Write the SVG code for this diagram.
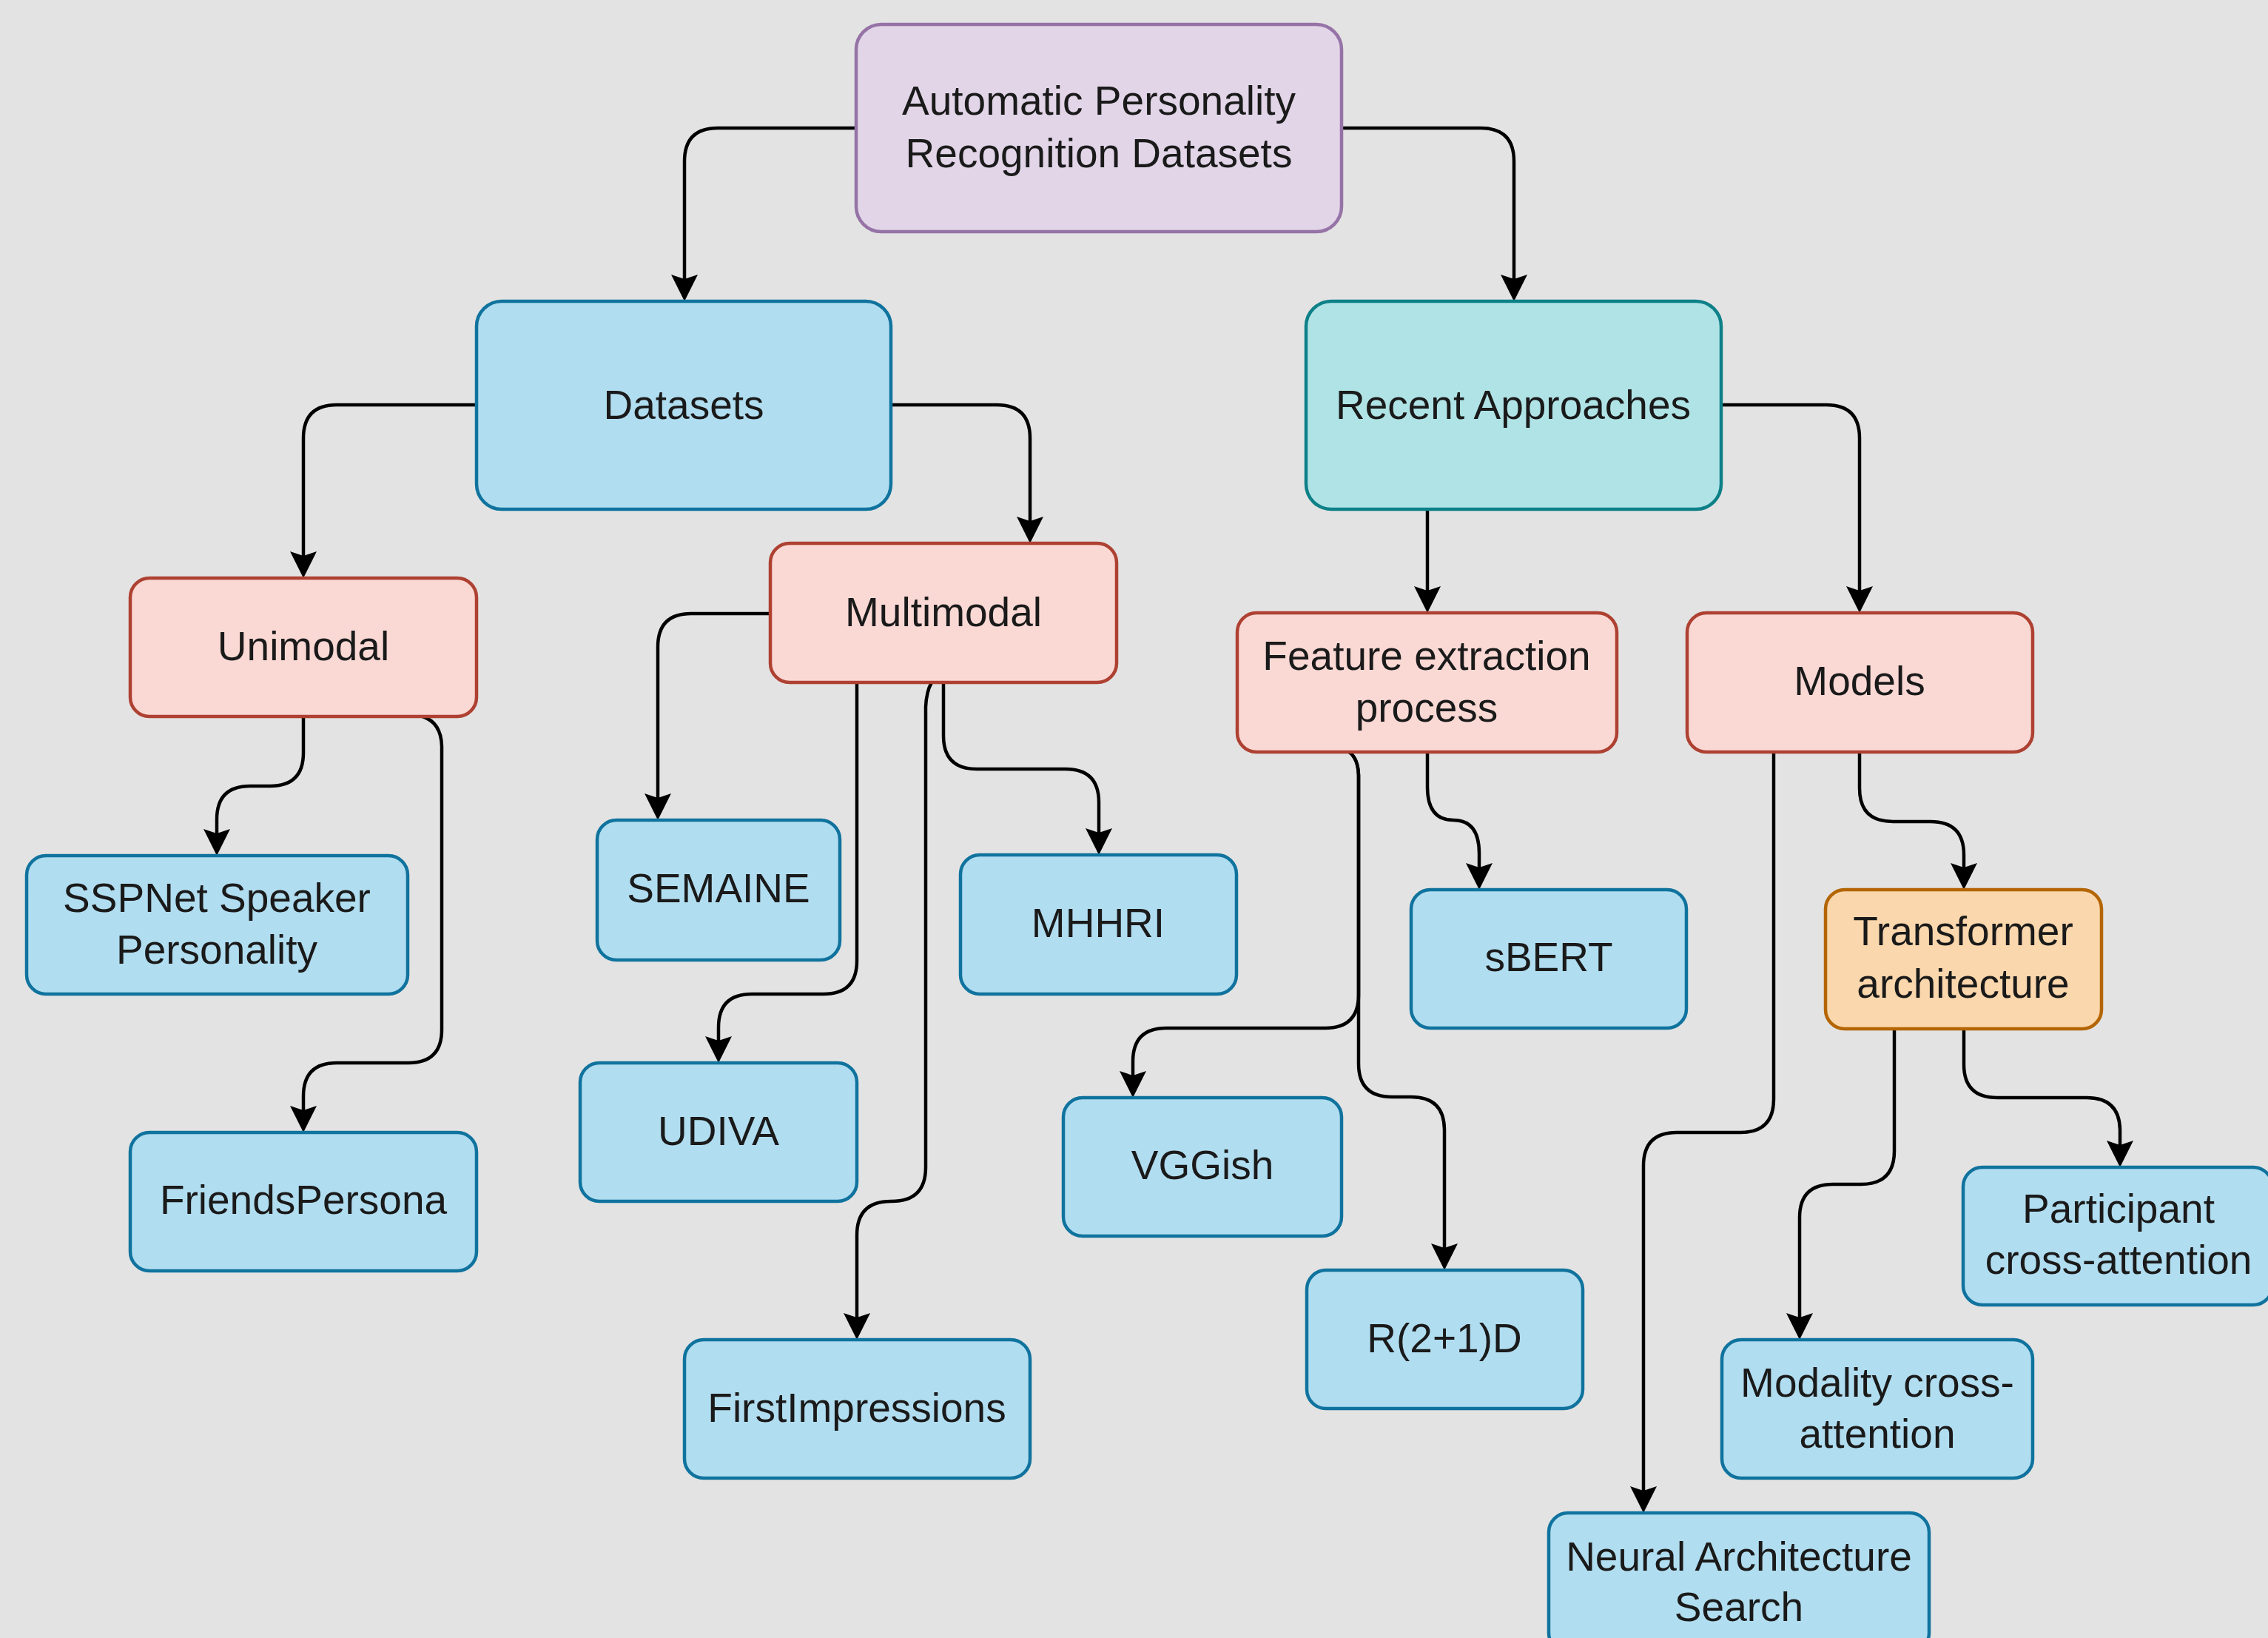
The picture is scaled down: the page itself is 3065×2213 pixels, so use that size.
<svg xmlns="http://www.w3.org/2000/svg" width="3065" height="2213" viewBox="0 0 3065 2213">
<style>
.n rect{stroke-width:4.5}
.blue rect{fill:#b1ddf0;stroke:#10739e}
.red rect{fill:#fad9d5;stroke:#ae4132}
.purple rect{fill:#e1d5e7;stroke:#9673a6}
.teal rect{fill:#b0e3e6;stroke:#0e8088}
.orange rect{fill:#fad7ac;stroke:#b46504}
text{font-family:"Liberation Sans",Arial,Helvetica,sans-serif;font-size:55px;fill:#1a1a1a;text-anchor:middle}
.e path{fill:none;stroke:#000;stroke-width:4.5;marker-end:url(#arr)}
</style>
<defs>
<marker id="arr" markerUnits="userSpaceOnUse" viewBox="0 -20 40 40" markerWidth="40" markerHeight="40" refX="6" refY="0" orient="auto">
<path d="M0,-18 L36,0 L0,18 L6,0 Z" fill="#000"/>
</marker>
</defs>
<rect x="0" y="0" width="3065" height="2213" fill="#e3e3e3"/>
<g id="connectors" class="e">
<path d="M1157 173 L970 173 Q925 173 925 218 L925 377"/>
<path d="M1813 173 L2001 173 Q2046 173 2046 218 L2046 377"/>
<path d="M644 547 L455 547 Q410 547 410 592 L410 751"/>
<path d="M1204 547 L1347 547 Q1392 547 1392 592 L1392 704"/>
<path d="M410 968 L410 1017 Q410 1062 365 1062 L338 1062 Q293 1062 293 1107 L293 1126"/>
<path d="M571 968 Q596 976 597 1008 L597 1391 Q597 1436 552 1436 L455 1436 Q410 1436 410 1481 L410 1500"/>
<path d="M1041 829 L934 829 Q889 829 889 874 L889 1078"/>
<path d="M1158 922 L1158 1298 Q1158 1343 1113 1343 L1016 1343 Q971 1343 971 1388 L971 1406"/>
<path d="M1259 922 Q1252 934 1251 955 L1251 1577 Q1251 1623 1205 1623 L1204 1623 Q1158 1623 1158 1669 L1158 1780"/>
<path d="M1275 922 L1275 994 Q1275 1039 1320 1039 L1440 1039 Q1485 1039 1485 1084 L1485 1125"/>
<path d="M1929 688 L1929 798"/>
<path d="M2326 547 L2468 547 Q2513 547 2513 592 L2513 798"/>
<path d="M1929 1016 L1929 1063 Q1929 1108 1964 1108 Q1999 1108 1999 1153 L1999 1172"/>
<path d="M1823 1016 Q1835 1024 1836 1047 L1836 1344 Q1836 1389 1791 1389 L1576 1389 Q1531 1389 1531 1434 L1531 1453"/>
<path d="M1823 1016 Q1835 1024 1836 1047 L1836 1437 Q1836 1482 1881 1482 L1907 1482 Q1952 1482 1952 1527 L1952 1686"/>
<path d="M2513 1016 L2513 1065 Q2513 1110 2558 1110 L2609 1110 Q2654 1110 2654 1155 L2654 1172"/>
<path d="M2397 1016 L2397 1485 Q2397 1530 2352 1530 L2266 1530 Q2221 1530 2221 1575 L2221 2014"/>
<path d="M2560 1390 L2560 1555 Q2560 1600 2515 1600 L2477 1600 Q2432 1600 2432 1645 L2432 1780"/>
<path d="M2654 1390 L2654 1438 Q2654 1483 2699 1483 L2820 1483 Q2865 1483 2865 1528 L2865 1547"/>
</g>
<g id="root" class="n purple"><rect x="1157" y="33" width="656" height="280" rx="34"/><text x="1485" y="155">Automatic Personality</text><text x="1485" y="226">Recognition Datasets</text></g>
<g id="datasets" class="n blue"><rect x="644" y="407" width="560" height="281" rx="34"/><text x="924" y="566">Datasets</text></g>
<g id="recent" class="n teal"><rect x="1765" y="407" width="561" height="281" rx="34"/><text x="2045" y="566">Recent Approaches</text></g>
<g id="unimodal" class="n red"><rect x="176" y="781" width="468" height="187" rx="26"/><text x="410" y="892">Unimodal</text></g>
<g id="multimodal" class="n red"><rect x="1041" y="734" width="468" height="188" rx="26"/><text x="1275" y="846">Multimodal</text></g>
<g id="feature" class="n red"><rect x="1672" y="828" width="513" height="188" rx="26"/><text x="1928" y="905">Feature extraction</text><text x="1928" y="975">process</text></g>
<g id="models" class="n red"><rect x="2280" y="828" width="467" height="188" rx="26"/><text x="2513" y="939">Models</text></g>
<g id="sspnet" class="n blue"><rect x="36" y="1156" width="515" height="187" rx="26"/><text x="293" y="1232">SSPNet Speaker</text><text x="293" y="1302">Personality</text></g>
<g id="friends" class="n blue"><rect x="176" y="1530" width="468" height="187" rx="26"/><text x="410" y="1640">FriendsPersona</text></g>
<g id="semaine" class="n blue"><rect x="807" y="1108" width="328" height="189" rx="26"/><text x="971" y="1219">SEMAINE</text></g>
<g id="mhhri" class="n blue"><rect x="1298" y="1155" width="373" height="188" rx="26"/><text x="1484" y="1266">MHHRI</text></g>
<g id="udiva" class="n blue"><rect x="784" y="1436" width="374" height="187" rx="26"/><text x="971" y="1547">UDIVA</text></g>
<g id="firstimpressions" class="n blue"><rect x="925" y="1810" width="467" height="187" rx="26"/><text x="1158" y="1921">FirstImpressions</text></g>
<g id="sbert" class="n blue"><rect x="1907" y="1202" width="372" height="187" rx="26"/><text x="2093" y="1312">sBERT</text></g>
<g id="transformer" class="n orange"><rect x="2467" y="1202" width="373" height="188" rx="26"/><text x="2653" y="1277">Transformer</text><text x="2653" y="1348">architecture</text></g>
<g id="vggish" class="n blue"><rect x="1437" y="1483" width="376" height="187" rx="26"/><text x="1625" y="1593">VGGish</text></g>
<g id="r21d" class="n blue"><rect x="1766" y="1716" width="373" height="187" rx="26"/><text x="1952" y="1827">R(2+1)D</text></g>
<g id="participant" class="n blue"><rect x="2653" y="1577" width="418" height="186" rx="26"/><text x="2863" y="1652">Participant</text><text x="2863" y="1721">cross-attention</text></g>
<g id="modality" class="n blue"><rect x="2327" y="1810" width="420" height="187" rx="26"/><text x="2537" y="1887">Modality cross-</text><text x="2537" y="1956">attention</text></g>
<g id="nas" class="n blue"><rect x="2093" y="2044" width="514" height="188" rx="26"/><text x="2350" y="2122">Neural Architecture</text><text x="2350" y="2190">Search</text></g>
</svg>
